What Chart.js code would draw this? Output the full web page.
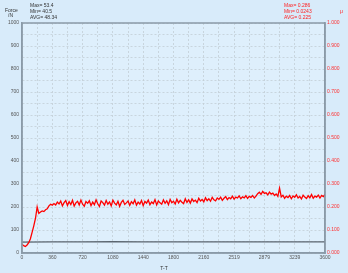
<!DOCTYPE html>
<html><head><meta charset="utf-8">
<script src="https://cdn.jsdelivr.net/npm/chart.js@4/dist/chart.umd.min.js"></script>
<style>html,body{margin:0;padding:0;background:#d8ebfa;}#wrap{width:348px;height:273px;}</style>
</head><body><div id="wrap"><canvas id="c" width="348" height="273"></canvas></div>
<script>
const times = [0,20,40,60,80,100,120,140,160,180,200,220,240,260,280,300,320,340,360,380,400,420,440,460,480,500,520,540,560,580,600,620,640,660,680,700,720,740,760,780,800,820,840,860,880,900,920,940,960,980,1000,1020,1040,1060,1080,1100,1120,1140,1160,1180,1200,1220,1240,1260,1280,1300,1320,1340,1360,1380,1400,1420,1440,1460,1480,1500,1520,1540,1560,1580,1600,1620,1640,1660,1680,1700,1720,1740,1760,1780,1800,1820,1840,1860,1880,1900,1920,1940,1960,1980,2000,2020,2040,2060,2080,2100,2120,2140,2160,2180,2200,2220,2240,2260,2280,2300,2320,2340,2360,2380,2400,2420,2440,2460,2480,2500,2520,2540,2560,2580,2600,2620,2640,2660,2680,2700,2720,2740,2760,2780,2800,2820,2840,2860,2880,2900,2920,2940,2960,2980,3000,3020,3040,3060,3080,3100,3120,3140,3160,3180,3200,3220,3240,3260,3280,3300,3320,3340,3360,3380,3400,3420,3440,3460,3480,3500,3520,3540,3560,3580,3600];
const muValues = [
0.038,0.032,0.028,0.035,0.045,0.062,0.090,0.118,0.150,0.200,
0.172,0.178,0.183,0.180,0.188,0.192,0.205,0.212,0.208,0.215,
0.209,0.221,0.213,0.226,0.205,0.219,0.228,0.207,0.223,0.211,
0.229,0.204,0.218,0.225,0.209,0.230,0.212,0.203,0.224,0.216,
0.227,0.206,0.221,0.210,0.231,0.214,0.202,0.226,0.219,0.208,
0.228,0.212,0.222,0.205,0.230,0.217,0.209,0.225,0.203,0.220,
0.229,0.211,0.218,0.226,0.207,0.223,0.214,0.231,0.208,0.221,
0.213,0.228,0.206,0.224,0.217,0.230,0.210,0.222,0.215,0.232,
0.209,0.226,0.218,0.212,0.231,0.216,0.227,0.210,0.233,0.219,
0.225,0.213,0.234,0.218,0.229,0.221,0.215,0.236,0.220,0.231,
0.217,0.235,0.224,0.230,0.219,0.238,0.226,0.233,0.222,0.240,
0.228,0.236,0.225,0.242,0.231,0.227,0.239,0.233,0.243,0.229,
0.238,0.245,0.232,0.241,0.236,0.247,0.234,0.243,0.239,0.248,
0.236,0.244,0.240,0.249,0.237,0.246,0.242,0.250,0.239,0.247,
0.258,0.264,0.255,0.268,0.259,0.262,0.253,0.265,0.256,0.260,
0.250,0.257,0.246,0.282,0.244,0.251,0.238,0.247,0.241,0.250,
0.236,0.248,0.242,0.253,0.239,0.246,0.235,0.251,0.243,0.237,
0.249,0.240,0.254,0.238,0.247,0.243,0.252,0.239,0.250,0.245,0.255];
const forceTimes = [0,360,720,1080,1440,1800,2160,2520,2880,3240,3600];
const forceValues = [47.2,48.6,48.1,48.9,48.3,48.5,48.0,48.7,48.2,48.8,48.4];
const xTickLabels = ['0','360','720','1080','1440','1800','2160','2519','2879','3239','3600'];
const leftStats = ['Max= 53.4','Min= 40.5','AVG= 48.34'];
const rightStats = ['Max= 0.286','Min= 0.0243','AVG= 0.225'];

const FONT = '"Liberation Sans", Arial, sans-serif';

const bgPlugin = {
  id: 'bg',
  beforeDraw(chart) {
    const {ctx, chartArea: a} = chart;
    ctx.save();
    ctx.fillStyle = '#d8ebfa';
    ctx.fillRect(0, 0, chart.width, chart.height);
    ctx.fillStyle = '#deeffc';
    ctx.fillRect(a.left, a.top, a.right - a.left, a.bottom - a.top);
    ctx.restore();
  },
  afterDraw(chart) {
    const {ctx, chartArea: a} = chart;
    ctx.save();
    ctx.strokeStyle = '#8a9aa8';
    ctx.lineWidth = 1.5;
    ctx.strokeRect(a.left, a.top, a.right - a.left, a.bottom - a.top);
    ctx.font = '5px ' + FONT;
    ctx.textBaseline = 'middle';
    ctx.fillStyle = '#333';
    ctx.fillText('Force', 5, 11);
    ctx.fillText('/N', 8, 16);
    leftStats.forEach((t, i) => ctx.fillText(t, 30, 6 + i * 6));
    ctx.fillStyle = '#ff2020';
    rightStats.forEach((t, i) => ctx.fillText(t, 284, 6 + i * 6));
    ctx.fillText('μ', 340, 12);
    ctx.fillStyle = '#333';
    ctx.textAlign = 'center';
    ctx.fillText('T-T', 164, 269);
    ctx.restore();
  }
};

new Chart(document.getElementById('c'), {
  type: 'line',
  data: {
    datasets: [
      {
        label: 'μ',
        data: times.map((t, i) => ({x: t, y: muValues[i]})),
        yAxisID: 'yR',
        borderColor: '#ff0000',
        borderWidth: 1.3,
        pointRadius: 0,
        tension: 0
      },
      {
        label: 'Force',
        data: forceTimes.map((t, i) => ({x: t, y: forceValues[i]})),
        yAxisID: 'yL',
        borderColor: '#5b6670',
        borderWidth: 1.3,
        pointRadius: 0,
        tension: 0
      }
    ]
  },
  plugins: [bgPlugin],
  options: {
    responsive: false,
    animation: false,
    events: [],
    layout: {padding: {top: 23, left: 0, right: 0, bottom: 0}},
    plugins: {legend: {display: false}, tooltip: {enabled: false}},
    scales: {
      x: {
        type: 'linear',
        min: 0, max: 3600,
        afterFit(s) { s.height = 20; },
        afterBuildTicks(s) {
          const t = [];
          for (let v = 0; v <= 3600; v += 180) t.push({value: v});
          s.ticks = t;
        },
        ticks: {
          autoSkip: false, maxRotation: 0, padding: 2,
          color: '#555', font: {size: 5, family: FONT},
          callback(v) { return v % 360 === 0 ? xTickLabels[v / 360] : ''; }
        },
        grid: {color: '#c3ced6', lineWidth: 0.8, drawTicks: false, tickLength: 0},
        border: {display: true, color: '#8a9aa8', width: 1.5, dash: [2, 2]}
      },
      yL: {
        position: 'left',
        min: 0, max: 1000,
        afterFit(s) { s.width = 22; },
        ticks: {
          stepSize: 50, padding: 3, autoSkip: false,
          color: '#555', font: {size: 5, family: FONT},
          callback(v) { return v % 100 === 0 ? String(v) : ''; }
        },
        grid: {color: '#c3ced6', lineWidth: 0.8, drawTicks: false},
        border: {display: true, color: '#8a9aa8', width: 1.5, dash: [2, 2]}
      },
      yR: {
        position: 'right',
        min: 0, max: 1,
        afterFit(s) { s.width = 23; },
        ticks: {
          stepSize: 0.1, padding: 2, autoSkip: false,
          color: '#ff3030', font: {size: 5, family: FONT},
          callback(v) { return Number(v).toFixed(3); }
        },
        grid: {display: false, drawTicks: false},
        border: {display: true, color: '#8a9aa8', width: 1.5}
      }
    }
  }
});
</script>
</body></html>
